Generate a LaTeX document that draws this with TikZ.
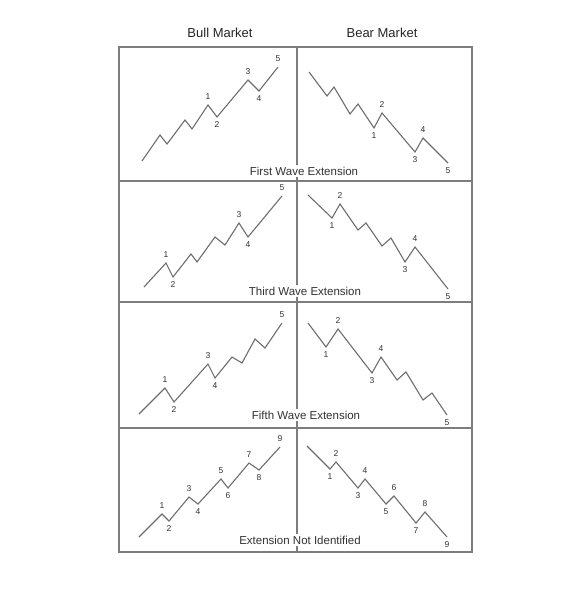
\documentclass[tikz,border=0pt]{standalone}
\usepackage{fontspec}
\setmainfont{Liberation Sans}
\usetikzlibrary{positioning}
\definecolor{FrameGray}{RGB}{125,125,125}
\definecolor{WaveGray}{RGB}{110,110,110}
\definecolor{TextGray}{RGB}{50,50,50}
\tikzset{
  frame/.style={draw=FrameGray,line width=1.3pt},
  wave/.style={draw=WaveGray,line width=1.1pt,line join=miter},
  wlbl/.style={font=\fontsize{8.5}{9}\selectfont,text=TextGray,inner sep=1pt},
  up/.style={wlbl,above=3.5pt},
  dn/.style={wlbl,below=3.5pt},
  caption/.style={font=\fontsize{11.5}{13}\selectfont,text=TextGray,fill=white,inner sep=1.5pt},
  heading/.style={font=\fontsize{13}{15}\selectfont,text=black!85}
}

\begin{document}
\begin{tikzpicture}[x=1pt,y=-1pt]
  \useasboundingbox[fill=white] (0,0) rectangle (585,599);

  % frame and grid
  \draw[frame] (119,47) rectangle (472,552);
  \draw[frame] (297,47) -- (297,552);
  \draw[frame] (119,181) -- (472,181);
  \draw[frame] (119,302) -- (472,302);
  \draw[frame] (119,428) -- (472,428);

  % headings
  \node[heading] (bull) at (220,33) {Bull Market};
  \node[heading] (bear) at (382,33) {Bear Market};

  % first wave extension
  \draw[wave] (142,161) -- (160,135) -- (167,144) -- (185,120) -- (192,129)
    -- (208,105) node[up] (fu1) {1} -- (217,117) node[dn] (fu2) {2}
    -- (248,80) node[up] (fu3) {3} -- (259,91) node[dn] (fu4) {4}
    -- (278,67) node[up] (fu5) {5};
  \draw[wave] (309,72) -- (327,96) -- (334,87) -- (350,114) -- (358,104)
    -- (374,128) node[dn] (fd1) {1} -- (382,113) node[up] (fd2) {2}
    -- (415,152) node[dn] (fd3) {3} -- (423,138) node[up] (fd4) {4}
    -- (448,163) node[dn] (fd5) {5};
  \node[caption] (cap1) at (304,171) {First Wave Extension};

  % third wave extension
  \draw[wave] (144,287) -- (166,263) node[up] (tu1) {1} -- (173,277) node[dn] (tu2) {2}
    -- (191,254) -- (197,262) -- (215,237) -- (225,245)
    -- (239,223) node[up] (tu3) {3} -- (248,237) node[dn] (tu4) {4}
    -- (282,196) node[up] (tu5) {5};
  \draw[wave] (308,195) -- (332,218) node[dn] (td1) {1} -- (340,204) node[up] (td2) {2}
    -- (358,230) -- (366,223) -- (382,246) -- (391,238)
    -- (405,262) node[dn] (td3) {3} -- (415,247) node[up] (td4) {4}
    -- (448,289) node[dn] (td5) {5};
  \node[caption] (cap2) at (305,291) {Third Wave Extension};

  % fifth wave extension
  \draw[wave] (139,414) -- (165,388) node[up] (vu1) {1} -- (174,402) node[dn] (vu2) {2}
    -- (208,364) node[up] (vu3) {3} -- (215,378) node[dn] (vu4) {4}
    -- (232,357) -- (242,363) -- (255,339) -- (265,348)
    -- (282,323) node[up] (vu5) {5};
  \draw[wave] (308,323) -- (326,347) node[dn] (vd1) {1} -- (338,329) node[up] (vd2) {2}
    -- (372,373) node[dn] (vd3) {3} -- (381,357) node[up] (vd4) {4}
    -- (397,380) -- (406,372) -- (423,400) -- (432,393)
    -- (447,415) node[dn] (vd5) {5};
  \node[caption] (cap3) at (306,415) {Fifth Wave Extension};

  % extension not identified
  \draw[wave] (139,537) -- (162,514) node[up] (nu1) {1} -- (169,521) node[dn] (nu2) {2}
    -- (189,497) node[up] (nu3) {3} -- (198,504) node[dn] (nu4) {4}
    -- (221,479) node[up] (nu5) {5} -- (228,488) node[dn] (nu6) {6}
    -- (249,463) node[up] (nu7) {7} -- (259,470) node[dn] (nu8) {8}
    -- (280,447) node[up] (nu9) {9};
  \draw[wave] (307,446) -- (330,469) node[dn] (nd1) {1} -- (336,462) node[up] (nd2) {2}
    -- (358,488) node[dn] (nd3) {3} -- (365,479) node[up] (nd4) {4}
    -- (386,504) node[dn] (nd5) {5} -- (394,496) node[up] (nd6) {6}
    -- (416,523) node[dn] (nd7) {7} -- (425,512) node[up] (nd8) {8}
    -- (447,537) node[dn] (nd9) {9};
  \node[caption] (cap4) at (300,540) {Extension Not Identified};
\end{tikzpicture}
\end{document}
